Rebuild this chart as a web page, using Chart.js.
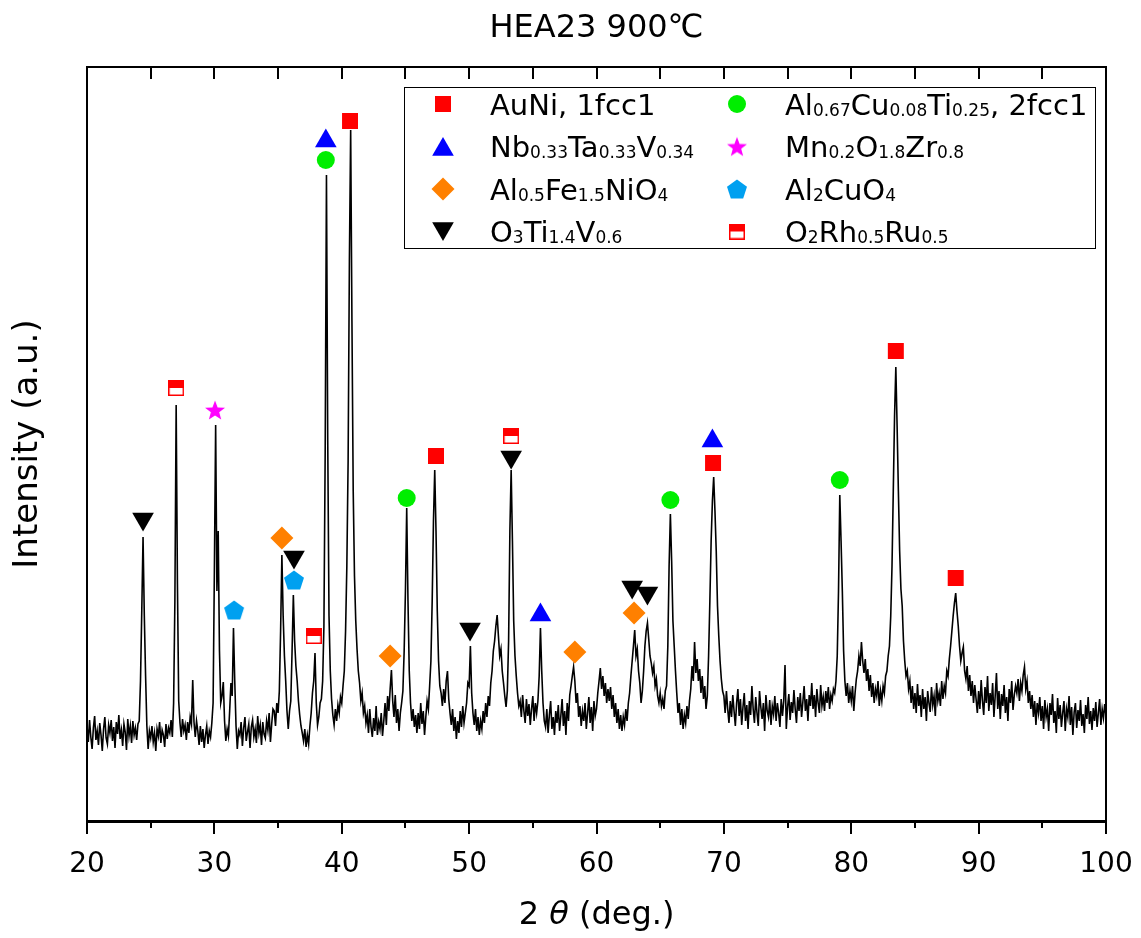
<!DOCTYPE html>
<html>
<head>
<meta charset="utf-8">
<title>HEA23 900℃</title>
<script src="https://cdn.jsdelivr.net/npm/chart.js@4.4.1/dist/chart.umd.min.js"></script>
<style>
  html, body { margin: 0; padding: 0; background: #fff; }
  canvas { display: block; }
</style>
</head>
<body>
<canvas id="xrdChart" width="1141" height="938"></canvas>
<script>
// 測定データ (2θ = 20〜100°, 0.1°刻み, 強度は任意単位)
const scanStart = 20;
const scanStep = 0.1;
const intensity = [
  95, 79, 101, 84, 72, 93, 105, 81, 90, 76,        // 20
  98, 86, 70, 92, 104, 83, 77, 96, 88, 101,        // 21
  80, 94, 73, 99, 87, 106, 82, 91, 75, 97,         // 22
  89, 71, 102, 85, 95, 78, 100, 86, 93, 81,        // 23
  97, 100, 140, 210, 284, 205, 145, 95, 72, 90,    // 24
  83, 95, 79, 88, 70, 92, 85, 99, 78, 91,          // 25
  86, 74, 97, 82, 93, 88, 101, 84, 118, 220,       // 26
  416, 237, 120, 98, 84, 102, 90, 96, 81, 99,      // 27
  88, 104, 97, 141, 99, 84, 100, 90, 76, 95,       // 28
  79, 92, 73, 86, 95, 77, 90, 84, 98, 118,         // 29
  250, 396, 230, 290, 170, 118, 125, 139, 100, 80, // 30
  92, 85, 110, 138, 125, 193, 140, 95, 72, 90,     // 31
  86, 99, 75, 93, 104, 80, 89, 97, 73, 94,         // 32
  101, 84, 92, 78, 105, 88, 96, 76, 99, 87,        // 33
  83, 100, 91, 108, 79, 97, 112, 110, 95, 118,     // 34
  108, 130, 190, 266, 205, 165, 140, 110, 92, 110, // 35
  120, 170, 226, 180, 155, 140, 120, 106, 95, 88,  // 36
  80, 92, 74, 86, 77, 95, 108, 128, 140, 168,      // 37
  118, 96, 104, 118, 122, 140, 195, 370, 646, 380, // 38
  205, 150, 122, 106, 96, 112, 100, 116, 108, 124, // 39
  118, 135, 150, 190, 255, 360, 560, 691, 500, 330, // 40
  245, 200, 172, 150, 138, 120, 128, 108, 115, 98, // 41
  106, 88, 112, 94, 84, 103, 90, 115, 86, 99,      // 42
  92, 108, 85, 100, 118, 96, 125, 110, 132, 151,   // 43
  120, 104, 126, 98, 112, 90, 108, 118, 130, 170,  // 44
  230, 313, 220, 150, 118, 100, 112, 94, 106, 88,  // 45
  108, 92, 118, 97, 110, 86, 104, 120, 112, 135,   // 46
  160, 220, 300, 351, 290, 210, 160, 135, 128, 115, // 47
  132, 118, 140, 150, 122, 108, 96, 112, 90, 104,  // 48
  82, 100, 88, 110, 94, 115, 98, 108, 118, 138,    // 49
  135, 175, 128, 108, 96, 112, 90, 104, 86, 100,   // 50
  92, 110, 98, 118, 104, 125, 115, 138, 150, 170,  // 51
  180, 195, 206, 185, 165, 172, 150, 138, 125, 114, // 52
  130, 180, 290, 351, 280, 200, 165, 145, 128, 115, // 53
  120, 104, 126, 110, 98, 122, 105, 117, 96, 112,  // 54
  125, 100, 118, 108, 120, 145, 193, 150, 118, 100, // 55
  94, 112, 88, 106, 120, 92, 104, 86, 110, 98,     // 56
  116, 90, 105, 122, 95, 110, 86, 118, 100, 126,   // 57
  135, 145, 154, 140, 118, 128, 104, 115, 95, 110, // 58
  100, 118, 92, 108, 124, 98, 114, 90, 120, 105,   // 59
  112, 128, 140, 153, 132, 145, 125, 138, 118, 132, // 60
  120, 134, 112, 126, 104, 118, 98, 112, 92, 106,  // 61
  90, 104, 96, 112, 100, 118, 128, 145, 160, 175,  // 62
  191, 165, 172, 150, 138, 118, 130, 150, 175, 190, // 63
  198, 182, 165, 158, 148, 155, 135, 142, 125, 118, // 64
  128, 115, 122, 112, 130, 135, 175, 255, 307, 260, // 65
  200, 175, 150, 128, 108, 118, 96, 112, 92, 106,  // 66
  98, 115, 102, 120, 132, 155, 140, 179, 148, 162, // 67
  140, 152, 128, 145, 122, 135, 112, 125, 165, 220, // 68
  280, 320, 344, 310, 270, 215, 185, 160, 142, 130, // 69
  125, 108, 130, 112, 98, 120, 104, 126, 110, 95,  // 70
  118, 132, 105, 122, 96, 114, 128, 100, 116, 92,  // 71
  120, 106, 135, 112, 98, 124, 108, 95, 130, 114,  // 72
  102, 118, 90, 126, 110, 104, 121, 96, 115, 107,  // 73
  125, 100, 118, 108, 94, 122, 105, 120, 156, 92,  // 74
  114, 127, 101, 119, 108, 131, 112, 98, 124, 110, // 75
  128, 104, 119, 135, 110, 122, 100, 126, 115, 138, // 76
  112, 126, 104, 132, 118, 108, 136, 115, 124, 110, // 77
  130, 118, 134, 112, 126, 120, 132, 128, 140, 165, // 78
  230, 326, 280, 230, 170, 140, 125, 138, 118, 130, // 79
  120, 135, 110, 128, 142, 150, 165, 155, 179, 160, // 80
  148, 162, 140, 152, 130, 146, 124, 138, 118, 132, // 81
  125, 140, 115, 130, 120, 135, 128, 145, 150, 165, // 82
  175, 205, 255, 330, 405, 454, 395, 330, 270, 232, // 83
  215, 180, 160, 145, 150, 132, 140, 118, 135, 112, // 84
  128, 108, 137, 115, 126, 104, 132, 112, 124, 100, // 85
  130, 118, 109, 134, 116, 125, 105, 138, 120, 128, // 86
  115, 140, 122, 135, 128, 150, 145, 162, 175, 190, // 87
  205, 218, 228, 210, 195, 175, 160, 168, 174, 150, // 88
  142, 155, 130, 146, 125, 140, 118, 136, 122, 108, // 89
  130, 112, 141, 120, 106, 134, 118, 145, 110, 128, // 90
  116, 138, 104, 125, 148, 112, 130, 102, 127, 115, // 91
  136, 108, 124, 100, 132, 118, 140, 111, 126, 135, // 92
  128, 142, 120, 138, 130, 146, 154, 132, 140, 118, // 93
  130, 112, 126, 104, 120, 96, 118, 108, 124, 100, // 94
  115, 92, 121, 104, 112, 90, 118, 106, 127, 98,   // 95
  110, 88, 123, 102, 116, 94, 108, 120, 90, 112,   // 96
  104, 125, 96, 114, 86, 109, 118, 93, 111, 100,   // 97
  121, 95, 107, 88, 116, 102, 124, 97, 110, 91,    // 98
  113, 100, 119, 94, 108, 122, 96, 112, 103, 117,  // 99
  105                                              // 100
];

// 相の名前 (_{ } は下付き文字)
const phaseLabels = [
  'AuNi, 1fcc1',
  'Nb_{0.33}Ta_{0.33}V_{0.34}',
  'Al_{0.5}Fe_{1.5}NiO_{4}',
  'O_{3}Ti_{1.4}V_{0.6}',
  'Al_{0.67}Cu_{0.08}Ti_{0.25}, 2fcc1',
  'Mn_{0.2}O_{1.8}Zr_{0.8}',
  'Al_{2}CuO_{4}',
  'O_{2}Rh_{0.5}Ru_{0.5}'
];

// 各相のピーク位置 (2θ) とマーカーの高さ
const auNiTheta = [40.65, 47.4, 69.15, 83.5, 88.2];
const auNiY     = [700, 365, 358, 470, 243];
const nbTaVTheta = [38.75, 55.6, 69.1];
const nbTaVY     = [680, 206, 380];
const alFeNiOTheta = [35.3, 43.8, 58.3, 62.95];
const alFeNiOY     = [283, 165, 169, 208];
const oTiVTheta = [24.4, 36.25, 50.07, 53.3, 62.8, 64.0];
const oTiVY     = [302, 264, 192, 364, 234, 228];
const alCuTiTheta = [38.75, 45.1, 65.8, 79.1];
const alCuTiY     = [661, 323, 321, 341];
const mnOZrTheta = [30.05];
const mnOZrY     = [411];
const al2CuO4Theta = [31.55, 36.25];
const al2CuO4Y     = [211, 241];
const oRhRuTheta = [27.0, 37.8, 53.3];
const oRhRuY     = [433, 185, 385];

const xTicks = [20, 30, 40, 50, 60, 70, 80, 90, 100];

// 独自マーカー（星・五角形・半分塗りの四角）
function makeStar(color) {
  const cv = document.createElement('canvas');
  cv.width = 22; cv.height = 22;
  const g = cv.getContext('2d');
  g.fillStyle = color;
  g.beginPath();
  for (let k = 0; k < 10; k++) {
    const r = k % 2 ? 4.4 : 10.5;
    const a = -Math.PI / 2 + k * Math.PI / 5;
    const px = 11 + r * Math.cos(a), py = 12 + r * Math.sin(a);
    if (k === 0) g.moveTo(px, py); else g.lineTo(px, py);
  }
  g.closePath();
  g.fill();
  return cv;
}
function makePentagon(color) {
  const cv = document.createElement('canvas');
  cv.width = 22; cv.height = 22;
  const g = cv.getContext('2d');
  g.fillStyle = color;
  g.beginPath();
  for (let k = 0; k < 5; k++) {
    const a = -Math.PI / 2 + k * 2 * Math.PI / 5;
    const px = 11 + 10.5 * Math.cos(a), py = 12 + 10.5 * Math.sin(a);
    if (k === 0) g.moveTo(px, py); else g.lineTo(px, py);
  }
  g.closePath();
  g.fill();
  return cv;
}
function makeHalfSquare(color) {
  const cv = document.createElement('canvas');
  cv.width = 16; cv.height = 16;
  const g = cv.getContext('2d');
  g.fillStyle = color;
  g.fillRect(0, 0, 16, 16);
  g.fillStyle = '#fff';
  g.fillRect(1.5, 8, 13, 6.5);
  return cv;
}

const markerStyles = [
  { pointStyle: 'rect', radius: 11.3, rotation: 0, color: '#ff0000', dy: 0 },
  { pointStyle: 'triangle', radius: 12.5, rotation: 0, color: '#0000ff', dy: 3 },
  { pointStyle: 'rectRot', radius: 11.5, rotation: 0, color: '#ff8000', dy: 0 },
  { pointStyle: 'triangle', radius: 12.5, rotation: 180, color: '#000000', dy: -3 },
  { pointStyle: 'circle', radius: 9, rotation: 0, color: '#00ee00', dy: 0 },
  { pointStyle: makeStar('#ff00ff'), radius: 10, rotation: 0, color: '#ff00ff', dy: 0 },
  { pointStyle: makePentagon('#00a0f0'), radius: 10, rotation: 0, color: '#00a0f0', dy: 0 },
  { pointStyle: makeHalfSquare('#ff0000'), radius: 8, rotation: 0, color: '#ff0000', dy: 0 }
];

const phaseTheta = [auNiTheta, nbTaVTheta, alFeNiOTheta, oTiVTheta, alCuTiTheta, mnOZrTheta, al2CuO4Theta, oRhRuTheta];
const phaseY = [auNiY, nbTaVY, alFeNiOY, oTiVY, alCuTiY, mnOZrY, al2CuO4Y, oRhRuY];

const FONT = '"DejaVu Sans", "Liberation Sans", sans-serif';
Chart.defaults.font.family = FONT;
Chart.defaults.color = '#000';

const scanData = intensity.map((v, i) => ({ x: +(scanStart + i * scanStep).toFixed(1), y: v }));

const markerDatasets = phaseLabels.map((label, i) => {
  const st = markerStyles[i];
  return {
    label: label,
    showLine: false,
    data: phaseTheta[i].map((t, k) => ({ x: t, y: phaseY[i][k] })),
    pointStyle: st.pointStyle,
    pointRadius: st.radius,
    pointRotation: st.rotation,
    pointBackgroundColor: st.color,
    pointBorderColor: st.color,
    pointBorderWidth: 0,
    order: 0
  };
});

// 枠線・目盛り・凡例・x軸タイトル
function drawRich(c, text, x, baseline) {
  const parts = text.split(/_\{([^}]*)\}/);
  parts.forEach((p, k) => {
    if (!p) return;
    if (k % 2) {
      c.font = '17px ' + FONT;
      c.fillText(p, x, baseline + 1);
    } else {
      c.font = '29px ' + FONT;
      c.fillText(p, x, baseline);
    }
    x += c.measureText(p).width;
  });
}

const decorPlugin = {
  id: 'decor',
  afterDraw(chart) {
    const c = chart.ctx;
    const a = chart.chartArea;
    const xs = chart.scales.x;
    c.save();
    c.strokeStyle = '#000';
    c.fillStyle = '#000';

    // 枠
    c.lineWidth = 2;
    c.beginPath();
    c.moveTo(a.left, a.bottom); c.lineTo(a.left, a.top);
    c.lineTo(a.right, a.top); c.lineTo(a.right, a.bottom);
    c.stroke();

    // 補助目盛り（下）と内向き目盛り（上）
    for (let v = 20; v <= 100; v += 5) {
      const px = Math.round(xs.getPixelForValue(v));
      c.beginPath();
      c.moveTo(px, a.top); c.lineTo(px, a.top + 12);
      if (v % 10 !== 0) { c.moveTo(px, a.bottom); c.lineTo(px, a.bottom + 7); }
      c.stroke();
    }

    // x軸タイトル 2θ (deg.)
    const parts = [['2 ', 'normal'], ['θ', 'italic'], [' (deg.)', 'normal']];
    let w = 0;
    parts.forEach(p => { c.font = p[1] + ' 32px ' + FONT; w += c.measureText(p[0]).width; });
    let x0 = (a.left + a.right) / 2 - w / 2;
    c.textBaseline = 'alphabetic';
    parts.forEach(p => {
      c.font = p[1] + ' 32px ' + FONT;
      c.fillText(p[0], x0, 924);
      x0 += c.measureText(p[0]).width;
    });

    // 凡例
    c.fillStyle = '#fff';
    c.fillRect(404.5, 87.5, 691, 161);
    c.lineWidth = 1;
    c.strokeRect(404.5, 87.5, 691, 161);
    phaseLabels.forEach((label, i) => {
      const col = Math.floor(i / 4), row = i % 4;
      const mx = col === 0 ? 443 : 737;
      const tx = col === 0 ? 490 : 785;
      const cy = 104 + row * 42.5;
      const st = markerStyles[i];
      c.fillStyle = st.color;
      c.strokeStyle = st.color;
      Chart.helpers.drawPoint(c, { pointStyle: st.pointStyle, radius: st.radius, rotation: st.rotation, borderWidth: 0 }, mx, cy + st.dy);
      c.fillStyle = '#000';
      c.textBaseline = 'alphabetic';
      drawRich(c, label, tx, cy + 10.5);
    });
    c.restore();
  }
};

const ctx = document.getElementById('xrdChart').getContext('2d');
const xrdChart = new Chart(ctx, {
  type: 'line',
  data: {
    datasets: markerDatasets.concat([{
      label: 'HEA23 900℃',
      data: scanData,
      borderColor: '#000',
      borderWidth: 1.6,
      pointRadius: 0,
      tension: 0,
      fill: false,
      order: 10
    }])
  },
  options: {
    responsive: false,
    animation: false,
    events: [],
    layout: { padding: { left: 0, right: 35, top: 0, bottom: 0 } },
    plugins: {
      legend: { display: false },
      tooltip: { enabled: false },
      title: {
        display: true,
        text: 'HEA23 900℃',
        fullSize: false,
        font: { size: 32, weight: 'normal', lineHeight: 1.2 },
        color: '#000',
        padding: { top: 9, bottom: 19.6 }
      }
    },
    scales: {
      x: {
        type: 'linear',
        position: 'bottom',
        min: 20,
        max: 100,
        afterFit(scale) {
          scale.height = 117;
          scale.paddingLeft = 0;
          scale.paddingRight = 0;
        },
        afterBuildTicks(scale) { scale.ticks = xTicks.map(v => ({ value: v })); },
        ticks: { font: { size: 28 }, color: '#000', padding: 14, maxRotation: 0 },
        grid: { drawOnChartArea: false, drawTicks: true, tickLength: 13, lineWidth: 2, color: '#000' },
        border: { display: true, width: 3, color: '#000' }
      },
      y: {
        type: 'linear',
        min: 0,
        max: 754,
        afterFit(scale) {
          scale.width = 87;
          scale.paddingTop = 0;
          scale.paddingBottom = 0;
        },
        ticks: { display: false },
        grid: { display: false },
        border: { display: true, width: 2, color: '#000' },
        title: {
          display: true,
          text: 'Intensity (a.u.)',
          font: { size: 34 },
          color: '#000',
          padding: { top: 8, bottom: 0 }
        }
      }
    }
  },
  plugins: [decorPlugin]
});
</script>
</body>
</html>
